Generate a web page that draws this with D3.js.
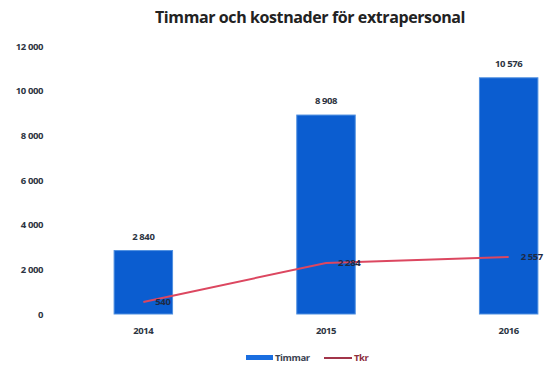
<!DOCTYPE html>
<html>
<head>
<meta charset="utf-8">
<script src="https://cdn.jsdelivr.net/npm/d3@7/dist/d3.min.js"></script>
<style>
  html, body { margin: 0; padding: 0; background: #fff; }
  svg { display: block; font-family: "Open Sans", "DejaVu Sans", sans-serif; }
</style>
</head>
<body>
<svg id="chart" width="547" height="367"></svg>
<script>
// Hours and costs for extra staff per year
const years = ["2014", "2015", "2016"];
const timmar = [2840, 8908, 10576];
const tkr = [540, 2284, 2557];
const yTicks = [0, 2000, 4000, 6000, 8000, 10000, 12000];
const title = "Timmar och kostnader för extrapersonal";
const seriesNames = ["Timmar", "Tkr"];

const svg = d3.select("#chart");
const fmt = v => d3.format(",")(v).replace(/,/g, " ");

const x = d3.scaleBand().domain(years).range([52, 600]).paddingInner(0.68).paddingOuter(0.34);
const y = d3.scaleLinear().domain([0, 12000]).range([314, 46]);

const barColor = "#0b5dd0";
const lineColor = "#dc4760";
const textColor = "#2c3442";

// title
svg.append("text")
  .attr("x", 310).attr("y", 23)
  .attr("text-anchor", "middle")
  .attr("font-size", 16).attr("font-weight", 700)
  .attr("fill", "#222")
  .attr("letter-spacing", -0.4)
  .text(title);

// y axis labels
const yAxis = d3.axisLeft(y).tickValues(yTicks).tickFormat(fmt).tickSize(0).tickPadding(0);
const gy = svg.append("g").attr("transform", "translate(43,0)").call(yAxis);
gy.select(".domain").remove();
gy.selectAll("text")
  .attr("font-size", 9.5).attr("font-weight", 700)
  .attr("fill", textColor).attr("letter-spacing", -0.4)
  .attr("font-family", "'Open Sans', sans-serif");

// bars
svg.append("g").selectAll("rect").data(years).join("rect")
  .attr("x", d => x(d))
  .attr("y", (d, i) => y(timmar[i]))
  .attr("width", x.bandwidth())
  .attr("height", (d, i) => y(0) - y(timmar[i]))
  .attr("fill", barColor)
  .attr("stroke", "#4f8fe0").attr("stroke-width", 1);

// bar value labels
svg.append("g").selectAll("text").data(years).join("text")
  .attr("x", d => x(d) + x.bandwidth() / 2)
  .attr("y", (d, i) => y(timmar[i]) - 11)
  .attr("text-anchor", "middle")
  .attr("font-size", 9.5).attr("font-weight", 700)
  .attr("fill", textColor).attr("letter-spacing", -0.4)
  .text((d, i) => fmt(timmar[i]));

// x axis category labels
const xAxis = d3.axisBottom(x).tickSize(0).tickPadding(0);
const gx = svg.append("g").attr("transform", "translate(0,327)").call(xAxis);
gx.select(".domain").remove();
gx.selectAll("text")
  .attr("font-size", 9.5).attr("font-weight", 700)
  .attr("fill", textColor).attr("letter-spacing", -0.4)
  .attr("font-family", "'Open Sans', sans-serif");

// Tkr line
const line = d3.line()
  .x((d, i) => x(years[i]) + x.bandwidth() / 2)
  .y(d => y(d));
svg.append("path")
  .datum(tkr)
  .attr("d", line)
  .attr("fill", "none")
  .attr("stroke", lineColor)
  .attr("stroke-width", 2);

// line value labels
svg.append("g").selectAll("text").data(tkr).join("text")
  .attr("x", (d, i) => x(years[i]) + x.bandwidth() / 2 + 12)
  .attr("y", d => y(d) + 3)
  .attr("font-size", 9.5).attr("font-weight", 700)
  .attr("fill", "#1e2a44").attr("letter-spacing", -0.4)
  .text(d => fmt(d));

// legend
const lg = svg.append("g");
lg.append("rect").attr("x", 246).attr("y", 355).attr("width", 27).attr("height", 5).attr("fill", "#1a6ee0");
lg.append("text").attr("x", 275).attr("y", 361)
  .attr("font-size", 9.5).attr("font-weight", 700).attr("fill", "#3a4250").attr("letter-spacing", -0.4)
  .text(seriesNames[0]);
lg.append("line").attr("x1", 324).attr("x2", 352).attr("y1", 358).attr("y2", 358)
  .attr("stroke", "#a2354a").attr("stroke-width", 2);
lg.append("text").attr("x", 354).attr("y", 361)
  .attr("font-size", 9.5).attr("font-weight", 700).attr("fill", "#8e2f3e").attr("letter-spacing", -0.4)
  .text(seriesNames[1]);
</script>
</body>
</html>
